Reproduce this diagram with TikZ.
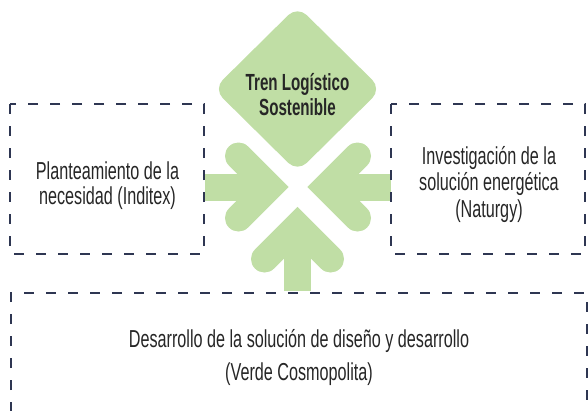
\documentclass[tikz,border=0pt]{standalone}
\usepackage{fontspec}
\setmainfont{Liberation Sans}[FakeStretch=0.66]
\newfontfamily\titlefont{Liberation Sans}[FakeStretch=0.65]
\definecolor{lgreen}{HTML}{C0DEA5}
\definecolor{navy}{HTML}{2E3652}
\definecolor{txt}{HTML}{262626}
\begin{document}
\begin{tikzpicture}[x=0.75pt,y=-0.75pt,
 dbox/.style={draw=navy, line width=1.1pt, dash pattern=on 7.5pt off 9pt},
 wing/.style={draw=lgreen, line width=20.25pt, line cap=round, line join=miter},
 shaft/.style={draw=lgreen, line width=20.25pt, line cap=butt},
 lbl/.style={text=txt, align=center, inner sep=0pt},
 ttl/.style={text=txt, font=\titlefont\bfseries\fontsize{17.5pt}{18.75pt}\selectfont, align=center, inner sep=0pt}]
\useasboundingbox (0,0) rectangle (588,410);
% diamond
\fill[lgreen, rounded corners=9.75pt] (297.5,6) -- (381.5,89) -- (297.5,172) -- (213.5,89) -- cycle;
\node[ttl] (title) at (297.5,94.5) {Tren Logístico\\Sostenible};
% left arrow
\draw[shaft] (205,187) -- (268,187);
\draw[wing] (238.5,156) -- (269.5,187) -- (238.5,218);
% right arrow
\draw[shaft] (391,187) -- (328,187);
\draw[wing] (357.5,156) -- (326.5,187) -- (357.5,218);
% up arrow
\draw[shaft] (297.5,291) -- (297.5,228);
\draw[wing] (264.5,259) -- (297.5,226) -- (330.5,259);
% boxes
\draw[dbox] (10,104) rectangle (204,254);
\draw[dbox] (391,104) rectangle (585,254);
\draw[dbox] (11,412) -- (11,293) -- (587,293) -- (587,412);
\node[lbl, font=\fontsize{18.4pt}{18.75pt}\selectfont] (need) at (107.5,186) {Planteamiento de la\\necesidad (Inditex)};
\node[lbl, font=\fontsize{18.4pt}{19.9pt}\selectfont] (energy) at (489,184.5) {Investigación de la\\solución energética\\(Naturgy)};
\node[lbl, font=\fontsize{18.4pt}{24.75pt}\selectfont] (dev) at (299,357.5) {Desarrollo de la solución de diseño y desarrollo\\(Verde Cosmopolita)};
\end{tikzpicture}
\end{document}
